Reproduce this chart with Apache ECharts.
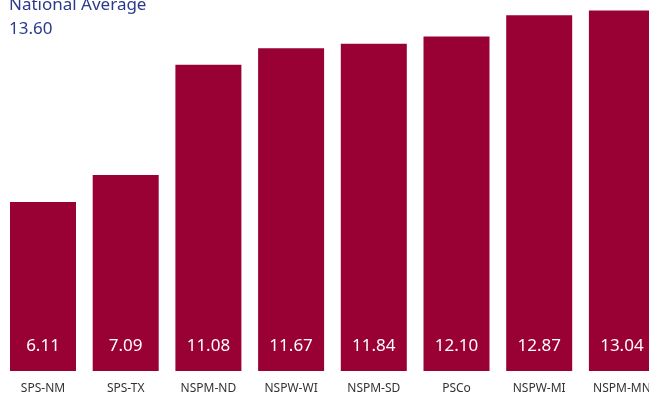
<!DOCTYPE html>
<html>
<head>
<meta charset="utf-8">
<script src="https://cdn.jsdelivr.net/npm/echarts@6/dist/echarts.min.js"></script>
<style>html,body{margin:0;padding:0;background:#fff;}#c{width:649px;height:396px;}</style>
</head>
<body>
<div id="c"></div>
<script>
var categories = ['SPS-NM', 'SPS-TX', 'NSPM-ND', 'NSPW-WI', 'NSPM-SD', 'PSCo', 'NSPW-MI', 'NSPM-MN'];
var values = [6.11, 7.09, 11.08, 11.67, 11.84, 12.10, 12.87, 13.04];
var nationalAverage = 13.60;
var averageLabel = 'National Average';

var chart = echarts.init(document.getElementById('c'), null, {renderer: 'canvas'});
chart.setOption({
  animation: false,
  backgroundColor: '#ffffff',
  textStyle: {fontFamily: 'Noto Sans'},
  graphic: [{
    type: 'text',
    left: 9,
    top: -7,
    z: 10,
    style: {
      text: averageLabel + '\n' + nationalAverage.toFixed(2),
      fill: '#2b3a8a',
      font: '17px "Noto Sans"',
      lineHeight: 24
    }
  }],
  grid: {left: 1.65, top: -5, width: 661.6, height: 376, containLabel: false, outerBoundsMode: 'none'},
  xAxis: {
    type: 'category',
    data: categories,
    axisLine: {show: false},
    axisTick: {show: false},
    axisLabel: {color: '#333333', fontSize: 12, margin: 12, interval: 0, fontFamily: 'Noto Sans', hideOverlap: false}
  },
  yAxis: {
    type: 'value',
    min: 0,
    max: nationalAverage,
    show: false,
    splitLine: {show: false}
  },
  series: [{
    type: 'bar',
    data: values,
    barWidth: 66,
    itemStyle: {color: '#990033'},
    label: {
      show: true,
      position: 'insideBottom',
      distance: 16,
      color: '#ffffff',
      fontSize: 17,
      fontFamily: 'Noto Sans',
      formatter: function (p) { return p.value.toFixed(2); }
    }
  }]
});
</script>
</body>
</html>
